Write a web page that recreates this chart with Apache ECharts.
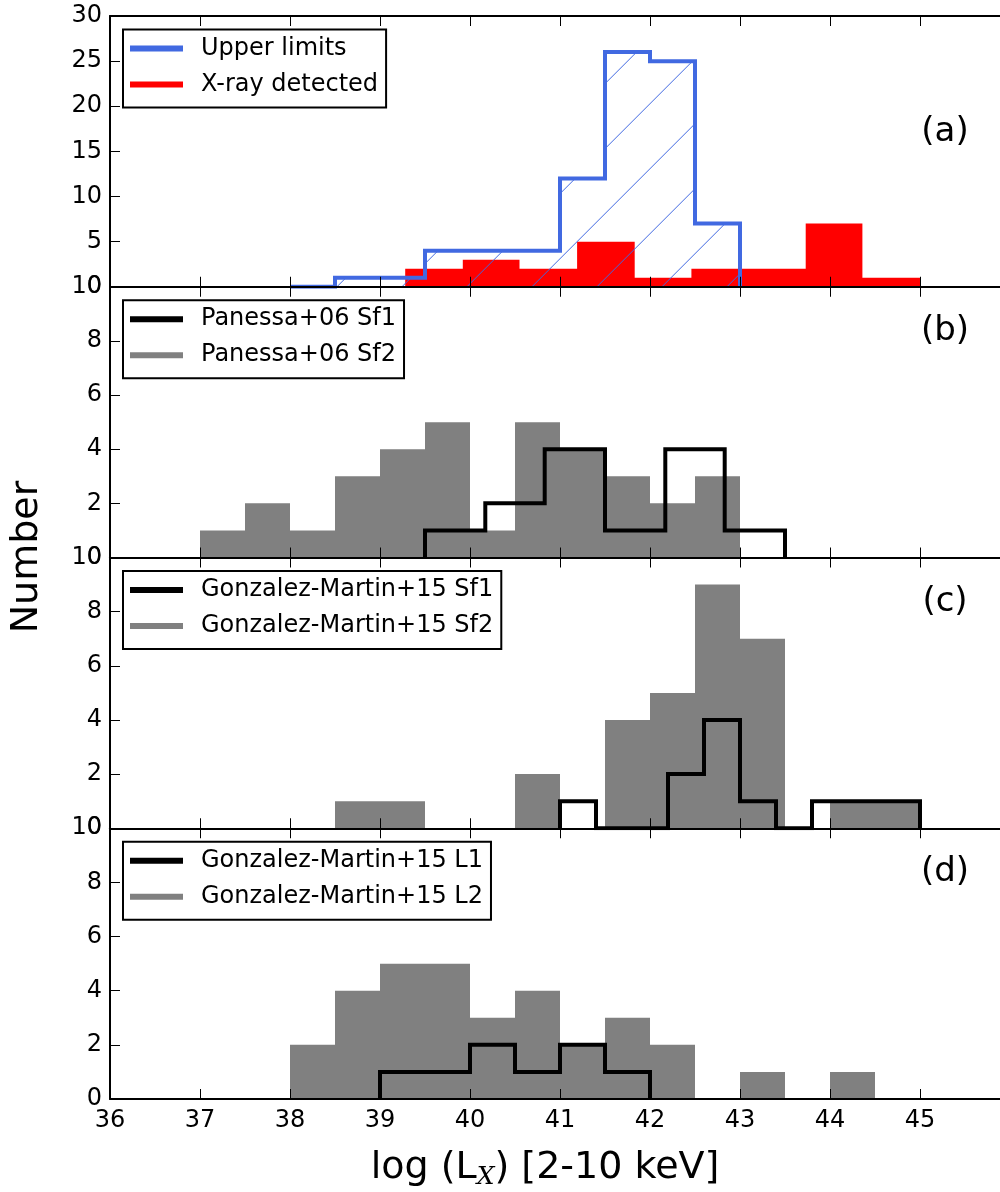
<!DOCTYPE html>
<html>
<head>
<meta charset="utf-8">
<title>X-ray luminosity distributions</title>
<script src="https://cdn.jsdelivr.net/npm/echarts@6/dist/echarts.min.js"></script>
<style>
  html, body { margin: 0; padding: 0; background: #fff; overflow: hidden; }
  /* the right-hand frame of the panels sits just past the visible edge */
  #chart { width: 1020px; height: 1192px; }
</style>
</head>
<body>
<div id="chart"></div>
<script>
// ---- Histogram data: bin edges (log L_X) and counts per bin ----
// (a) upper limits vs X-ray detected
const upperEdges = [38, 38.5, 39, 39.5, 40, 40.5, 41, 41.5, 42, 42.5, 43];
const upperCounts = [0, 1, 1, 4, 4, 4, 12, 26, 25, 7];
const detectedEdges = [39.28, 39.92, 40.55, 41.19, 41.83, 42.46, 43.09, 43.73, 44.36, 45.0];
const detectedCounts = [2, 3, 2, 5, 1, 2, 2, 7, 1];

// (b) Panessa+06
const panessaSf1Edges = [39.5, 40.17, 40.83, 41.5, 42.17, 42.83, 43.5];
const panessaSf1Counts = [1, 2, 4, 1, 4, 1];
const panessaSf2Edges = [37, 37.5, 38, 38.5, 39, 39.5, 40, 40.5, 41, 41.5, 42, 42.5, 43];
const panessaSf2Counts = [1, 2, 1, 3, 4, 5, 1, 5, 4, 3, 2, 3];

// (c) Gonzalez-Martin+15, Sf
const gmSf1Edges = [41.0, 41.4, 41.8, 42.2, 42.6, 43.0, 43.4, 43.8, 44.2, 44.6, 45.0];
const gmSf1Counts = [1, 0, 0, 2, 4, 1, 0, 1, 1, 1];
const gmSf2Edges = [38.5, 39, 39.5, 40, 40.5, 41, 41.5, 42, 42.5, 43, 43.5, 44, 44.5, 45];
const gmSf2Counts = [1, 1, 0, 0, 2, 0, 4, 5, 9, 7, 0, 1, 1];

// (d) Gonzalez-Martin+15, L
const gmL1Edges = [39, 39.5, 40, 40.5, 41, 41.5, 42];
const gmL1Counts = [1, 1, 2, 1, 2, 1];
const gmL2Edges = [38, 38.5, 39, 39.5, 40, 40.5, 41, 41.5, 42, 42.5, 43, 43.5, 44, 44.5];
const gmL2Counts = [2, 4, 5, 5, 3, 4, 2, 3, 2, 0, 1, 0, 1];

// Axes
const xMin = 36, xMax = 46, xStep = 1;
const yMaxes = [30, 10, 10, 10];
const ySteps = [5, 2, 2, 2];
const panelTags = ['(a)', '(b)', '(c)', '(d)'];

// ---- Layout ----
const FONT = '"DejaVu Sans", "Liberation Sans", sans-serif';
const GRID_LEFT = 110, GRID_W = 900, TOP0 = 16, PANEL_H = 270.75;
const tagY = [131.7, 331, 601.7, 872];
const COLORS = { upper: '#4169e1', detected: '#ff0000', dark: '#000000', grey: '#808080' };

// Outline of a histogram as a step path running through the bin edges
function stepOutline(edges, counts) {
  const pts = [[edges[0], 0]];
  counts.forEach((c, i) => { pts.push([edges[i], c], [edges[i + 1], c]); });
  pts.push([edges[edges.length - 1], 0]);
  return pts;
}

// Diagonal "/" hatch tile
function hatchTile() {
  const s = 65, off = 38.7;
  const c = document.createElement('canvas');
  c.width = s; c.height = s;
  const ctx = c.getContext('2d');
  ctx.strokeStyle = COLORS.upper;
  ctx.lineWidth = 1;
  [off - s, off, off + s].forEach(k => {
    ctx.beginPath();
    ctx.moveTo(k + 10, -10);
    ctx.lineTo(-10, k + 10);
    ctx.stroke();
  });
  return c;
}

const grids = [], xAxes = [], yAxes = [];
for (let i = 0; i < 4; i++) {
  grids.push({ left: GRID_LEFT, width: GRID_W, top: TOP0 + i * PANEL_H, height: PANEL_H, show: false });
  ['bottom', 'top'].forEach(pos => {
    xAxes.push({
      type: 'value', gridIndex: i, position: pos, min: xMin, max: xMax, interval: xStep, z: 5,
      axisLine: { show: true, onZero: false, lineStyle: { color: '#000', width: 2 } },
      axisTick: { show: true, inside: true, length: 10, lineStyle: { color: '#000', width: 1 } },
      splitLine: { show: false },
      axisLabel: {
        show: pos === 'bottom' && i === 3, showMaxLabel: false, margin: 10,
        color: '#000', fontSize: 24, fontFamily: FONT
      }
    });
  });
  ['left', 'right'].forEach(pos => {
    yAxes.push({
      type: 'value', gridIndex: i, position: pos, min: 0, max: yMaxes[i], interval: ySteps[i], z: 5,
      axisLine: { show: true, onZero: false, lineStyle: { color: '#000', width: 2 } },
      axisTick: { show: true, inside: true, length: 10, lineStyle: { color: '#000', width: 1 } },
      splitLine: { show: false },
      axisLabel: {
        show: pos === 'left', margin: 8,
        color: '#000', fontSize: 24, fontFamily: FONT
      }
    });
  });
}

function filledHist(name, panel, edges, counts, color) {
  return {
    name, type: 'line', xAxisIndex: 2 * panel, yAxisIndex: 2 * panel,
    data: stepOutline(edges, counts), symbol: 'none', silent: true, z: 2,
    color, itemStyle: { color },
    lineStyle: { width: 0, color },
    areaStyle: { color, opacity: 1 }
  };
}
function stepHist(name, panel, edges, counts, color, fill) {
  const s = {
    name, type: 'line', xAxisIndex: 2 * panel, yAxisIndex: 2 * panel,
    data: stepOutline(edges, counts), symbol: 'none', silent: true, z: 3,
    color, itemStyle: { color },
    lineStyle: { width: 4, color, join: 'miter' }
  };
  if (fill) s.areaStyle = { color: fill, opacity: 1 };
  return s;
}

const series = [
  filledHist('X-ray detected', 0, detectedEdges, detectedCounts, COLORS.detected),
  stepHist('Upper limits', 0, upperEdges, upperCounts, COLORS.upper, { image: hatchTile(), repeat: 'repeat' }),
  filledHist('Panessa+06 Sf2', 1, panessaSf2Edges, panessaSf2Counts, COLORS.grey),
  stepHist('Panessa+06 Sf1', 1, panessaSf1Edges, panessaSf1Counts, COLORS.dark),
  filledHist('Gonzalez-Martin+15 Sf2', 2, gmSf2Edges, gmSf2Counts, COLORS.grey),
  stepHist('Gonzalez-Martin+15 Sf1', 2, gmSf1Edges, gmSf1Counts, COLORS.dark),
  filledHist('Gonzalez-Martin+15 L2', 3, gmL2Edges, gmL2Counts, COLORS.grey),
  stepHist('Gonzalez-Martin+15 L1', 3, gmL1Edges, gmL1Counts, COLORS.dark)
];

const legendNames = [
  ['Upper limits', 'X-ray detected'],
  ['Panessa+06 Sf1', 'Panessa+06 Sf2'],
  ['Gonzalez-Martin+15 Sf1', 'Gonzalez-Martin+15 Sf2'],
  ['Gonzalez-Martin+15 L1', 'Gonzalez-Martin+15 L2']
];
const legends = legendNames.map((names, i) => ({
  orient: 'vertical', left: 123, top: TOP0 + i * PANEL_H + 13.5,
  data: names, icon: 'rect', itemWidth: 53, itemHeight: 6, itemGap: 12,
  padding: [7, 8, 11, 7], borderColor: '#000', borderWidth: 2, backgroundColor: '#fff',
  selectedMode: false, z: 10,
  textStyle: { fontSize: 24, fontFamily: FONT, color: '#000', padding: [0, 0, 0, 13], lineHeight: 24 }
}));

const graphics = panelTags.map((t, i) => ({
  type: 'text', x: 945, y: tagY[i], z: 20,
  style: { text: t, font: '34px ' + FONT, fill: '#000', align: 'center', verticalAlign: 'middle' }
}));
graphics.push({
  type: 'text', x: 27, y: 557, rotation: Math.PI / 2, z: 20,
  style: { text: 'Number', font: '38px ' + FONT, fill: '#000', align: 'center', verticalAlign: 'middle' }
});
graphics.push({
  type: 'text', x: 545, y: 1168, z: 20,
  style: {
    text: 'log (L{sub|X}) [2-10 keV]', fill: '#000', align: 'center', verticalAlign: 'middle',
    fontSize: 38, fontFamily: FONT,
    rich: { sub: { fontSize: 25, fontFamily: '"DejaVu Serif", serif', fontStyle: 'italic', padding: [18, 0, 0, 0], fill: '#000' } }
  }
});

const chart = echarts.init(document.getElementById('chart'), null, { renderer: 'canvas' });
chart.setOption({
  animation: false,
  backgroundColor: '#fff',
  textStyle: { fontFamily: FONT },
  grid: grids, xAxis: xAxes, yAxis: yAxes,
  legend: legends, series, graphic: graphics
});
</script>
</body>
</html>
